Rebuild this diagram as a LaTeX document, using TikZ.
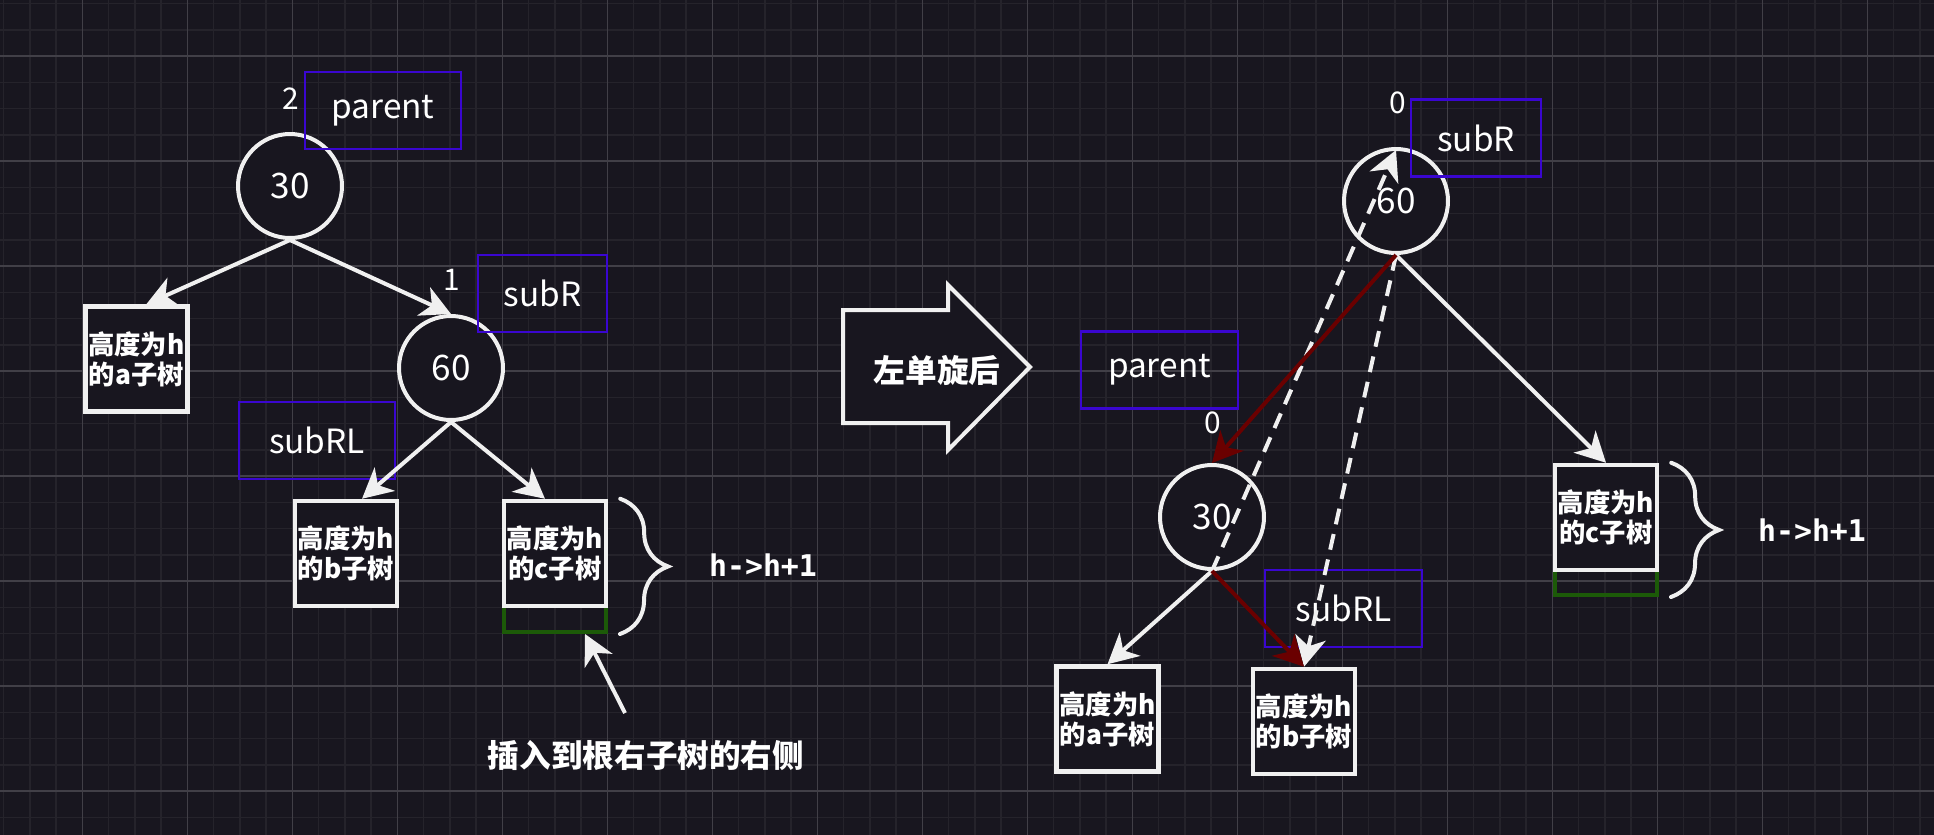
\documentclass[tikz,border=0pt]{standalone}
\usepackage{fontspec}
\setmainfont{Noto Sans CJK SC}
\newfontfamily\monoAVL{DejaVu Sans Mono}
\usepackage{xcolor}
\definecolor{fondoAVL}{HTML}{18161F}
\definecolor{rejillaAVL}{HTML}{25232B}
\definecolor{mallaAVL}{HTML}{413F47}
\definecolor{blancoAVL}{HTML}{F0F0F0}
\definecolor{azulAVL}{HTML}{3A06D0}
\definecolor{rojoAVL}{HTML}{6A0000}
\definecolor{verdeAVL}{HTML}{1C5A08}
\usepackage{tikz}
\usetikzlibrary{arrows.meta,calc,decorations.pathreplacing}

\begin{document}
\begin{tikzpicture}[x=0.02cm,y=-0.02cm,
  nodo/.style={circle,draw=blancoAVL,line width=0.08cm,fill=fondoAVL,
    minimum size=2.08cm,inner sep=0pt,text=white,font=\fontsize{20}{24}\selectfont},
  subarbol/.style={draw=blancoAVL,line width=0.09cm,fill=fondoAVL,
    minimum width=2.04cm,minimum height=2.1cm,inner sep=0pt,align=center,
    text=white,font=\fontsize{15}{17}\selectfont\bfseries},
  altura/.style={draw=verdeAVL,line width=0.08cm,minimum width=2.04cm,inner sep=0pt},
  etiqueta/.style={draw=azulAVL,line width=0.05cm,minimum height=1.54cm,inner sep=0pt,
    text=white,font=\fontsize{19}{22}\selectfont},
  factor/.style={text=white,font=\fontsize{17}{20}\selectfont},
  nota/.style={text=white,font=\fontsize{18}{22}\selectfont\bfseries},
  cambio/.style={text=white,font=\monoAVL\fontsize{17}{20}\selectfont\bfseries},
  flecha/.style={-{Stealth[length=0.6cm,width=0.62cm,inset=0.18cm]},
    line width=0.08cm,draw=blancoAVL},
  giro/.style={flecha,draw=rojoAVL},
  antes/.style={flecha,dash pattern=on 0.32cm off 0.2cm},
  llave/.style={decorate,decoration={brace,amplitude=0.96cm},
    line width=0.08cm,draw=blancoAVL,line cap=round}]
  \useasboundingbox (0,0) rectangle (1934,835);
  \fill[fondoAVL] (0,0) rectangle (1934,835);
  \foreach \i in {0,...,73}{
    \draw[rejillaAVL,line width=0.03cm] ({3.5+26.25*\i},0) -- ({3.5+26.25*\i},835);
  }
  \foreach \j in {0,...,31}{
    \draw[rejillaAVL,line width=0.03cm] (0,{3.5+26.25*\j}) -- (1934,{3.5+26.25*\j});
  }
  \foreach \i in {0,...,17}{
    \draw[mallaAVL,line width=0.03cm] ({82.25+105*\i},0) -- ({82.25+105*\i},835);
  }
  \foreach \j in {0,...,7}{
    \draw[mallaAVL,line width=0.03cm] (0,{56+105*\j}) -- (1934,{56+105*\j});
  }

  \node[nodo] (c30) at (290,186) {30};
  \node[nodo] (c60) at (451,368) {60};
  \node[subarbol] (ta) at (136.3,359) {高度为h\\的a子树};
  \node[subarbol] (tb) at (346,553.5) {高度为h\\的b子树};
  \node[altura,minimum height=0.52cm] (cg) at (555,619) {};
  \node[subarbol] (tc) at (555,553.5) {高度为h\\的c子树};
  \node[etiqueta,minimum width=3.12cm] (lp) at (383,110.5) {parent};
  \node[etiqueta,minimum width=2.58cm] (lr) at (542.5,293.5) {subR};
  \node[etiqueta,minimum width=3.12cm] (lrl) at (317,440.5) {subRL};
  \node[factor] (f30) at (291,99) {2};
  \node[factor] (f60) at (452,280) {1};

  \draw[flecha] (c30.south) -- ([xshift=0.2cm]ta.north);
  \draw[flecha] (c30.south) -- (c60.north);
  \draw[flecha] (c60.south) -- ([xshift=0.32cm]tb.north);
  \draw[flecha] (c60.south) -- ([xshift=-0.2cm]tc.north);
  \draw[llave] ([xshift=0.24cm]tc.north east) -- ([xshift=0.24cm]cg.south east);
  \node[cambio] (hl) at (763,565) {h->h+1};
  \node[nota] (ins) at (646,755) {插入到根右子树的右侧};
  \coordinate (insCola) at (625,713);
  \draw[flecha] (insCola) -- ([xshift=0.6cm]cg.south);

  \draw[line width=0.08cm,draw=blancoAVL,fill=fondoAVL] (843,310) -- (948,310)
    -- (948,285) -- (1030,367) -- (948,450) -- (948,423) -- (843,423) -- cycle;
  \node[nota] (giroTxt) at (937,370) {左单旋后};

  \node[nodo] (r60) at (1396,201) {60};
  \node[nodo] (r30) at (1212,517) {30};
  \node[subarbol] (ra) at (1107.5,719) {高度为h\\的a子树};
  \node[subarbol] (rb) at (1304,721.5) {高度为h\\的b子树};
  \node[altura,minimum height=0.5cm] (rcg) at (1606,582.5) {};
  \node[subarbol] (rc) at (1606,517.5) {高度为h\\的c子树};
  \node[etiqueta,minimum width=2.6cm] (rr) at (1476,138) {subR};
  \node[etiqueta,minimum width=3.14cm] (rp) at (1159.5,370) {parent};
  \node[etiqueta,minimum width=3.14cm] (rrl) at (1343.5,608.5) {subRL};
  \node[factor] (fr60) at (1398,103) {0};
  \node[factor] (fr30) at (1213,423) {0};

  \draw[flecha] (r60.south) -- (rc.north);
  \draw[flecha] (r30.south) -- (ra.north);
  \draw[antes] (r30.south) -- ([yshift=-0.06cm]r60.north);
  \draw[antes] (r60.south) -- (rb.north);
  \draw[giro] (r60.south) -- (r30.north);
  \draw[giro] (r30.south) -- (rb.north);
  \draw[llave] ([xshift=0.24cm]rc.north east) -- ([xshift=0.24cm]rcg.south east);
  \node[cambio] (hr) at (1812,530) {h->h+1};
\end{tikzpicture}
\end{document}
